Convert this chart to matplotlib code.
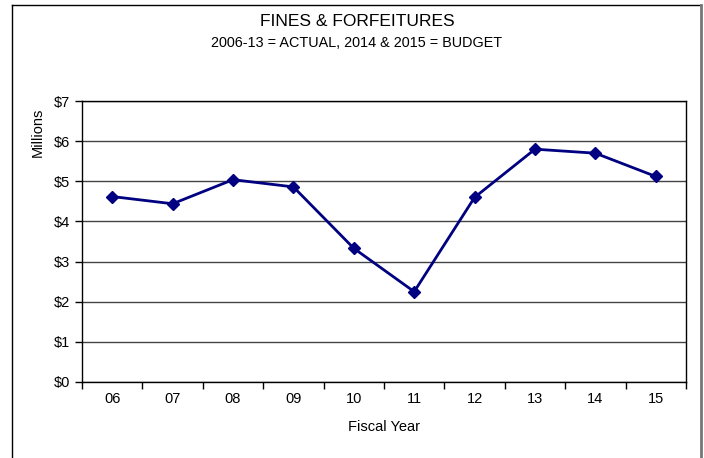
import matplotlib
matplotlib.use("Agg")
import matplotlib.pyplot as plt
from matplotlib.lines import Line2D
import numpy as np

plt.rcParams['font.family'] = ['Liberation Sans', 'DejaVu Sans']

# fiscal years and revenue (millions of dollars)
years = ['06', '07', '08', '09', '10', '11', '12', '13', '14', '15']
revenue = [4.62, 4.44, 5.04, 4.86, 3.33, 2.25, 4.60, 5.80, 5.70, 5.12]
y_ticks = [0, 1, 2, 3, 4, 5, 6, 7]

fig = plt.figure(figsize=(7.04, 4.58), dpi=100)
ax = fig.add_axes([82/704, 1 - 382/458, 604/704, 281/458])

x = np.arange(len(years))
ax.plot(x, revenue, color='#000080', lw=2, marker='D', markersize=6,
        markeredgecolor='#000080', zorder=3, clip_on=False)

ax.set_xlim(-0.5, len(years) - 0.5)
ax.set_ylim(0, 7)
ax.set_yticks(y_ticks)
ax.set_yticklabels([f'${v}' for v in y_ticks], fontsize=10.5)
ax.yaxis.grid(True, color='#444444', lw=1)
ax.set_axisbelow(True)

# category boundaries get the tick marks, labels sit between them
ax.set_xticks(np.arange(-0.5, len(years)), labels=[''] * (len(years) + 1))
ax.set_xticks(x, labels=years, minor=True)
ax.tick_params(axis='x', which='minor', length=0, labelsize=10.5, pad=7)
ax.tick_params(axis='both', which='major', direction='out', length=5,
               width=1, color='black')

for s in ax.spines.values():
    s.set_color('black')
    s.set_linewidth(1)

ax.set_xlabel('Fiscal Year', fontsize=10.5, labelpad=10)
ax.set_ylabel('Millions', fontsize=10.5)
ax.yaxis.set_label_coords(-0.062, 0.89)

fig.text(0.507, 1 - 21/458, 'FINES & FORFEITURES', ha='center', va='center', fontsize=12.5)
fig.text(0.507, 1 - 43/458, '2006-13 = ACTUAL, 2014 & 2015 = BUDGET',
         ha='center', va='center', fontsize=10.4)

# chart frame
fig.add_artist(Line2D([12/704, 12/704], [0, 1 - 5/458], color='black', lw=1))
fig.add_artist(Line2D([12/704, 701/704], [1 - 5/458, 1 - 5/458], color='black', lw=1))
fig.add_artist(Line2D([701/704, 701/704], [0, 1 - 5/458], color='#777777', lw=2))

fig.savefig('out.png', dpi=100)
